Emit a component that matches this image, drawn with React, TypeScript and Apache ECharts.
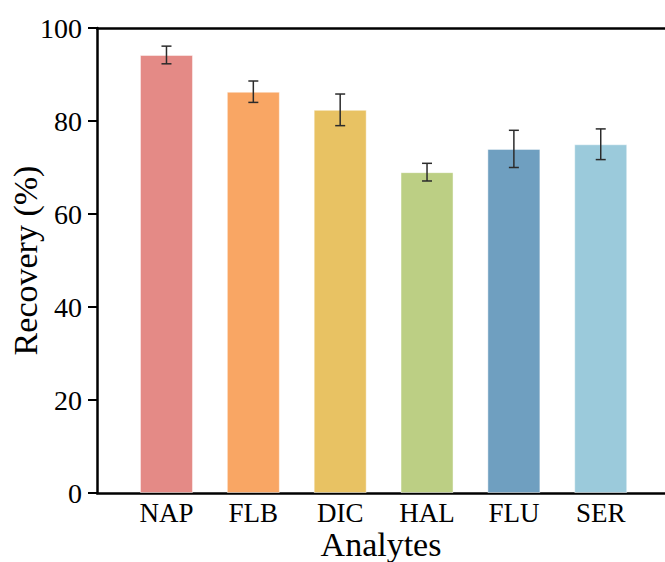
import React, { useEffect, useRef } from "react";
import * as echarts from "echarts";

const categories = ["NAP", "FLB", "DIC", "HAL", "FLU", "SER"];
const recovery = [94.2, 86.3, 82.4, 69.0, 74.0, 75.0];
const errors = [1.9, 2.3, 3.4, 1.9, 4.0, 3.3];
const colors = ["#E48A86", "#F9A664", "#E8C263", "#BCCF84", "#6F9FC0", "#9BCADB"];
const yTicks = [0, 20, 40, 60, 80, 100];

const FONT = "'Liberation Serif', 'Times New Roman', serif";

export default function App() {
  const ref = useRef<HTMLDivElement>(null);
  useEffect(() => {
    if (!ref.current) return;
    const chart = echarts.init(ref.current, null, { renderer: "svg" });
    const positions = categories.map((_, i) => i + 1);
    const option: any = {
      animation: false,
      backgroundColor: "#fff",
      grid: { left: 97, right: 0, top: 28, bottom: 69, containLabel: false, outerBoundsMode: "none" },
      xAxis: [
        {
          type: "value",
          min: 0.2,
          max: 6.74,
          position: "bottom",
          axisLine: { show: true, onZero: false, lineStyle: { color: "#000", width: 2.5 } },
          axisTick: { show: false },
          splitLine: { show: false },
          axisLabel: {
            customValues: positions,
            formatter: (v: number) => categories[Math.round(v) - 1] ?? "",
            color: "#000",
            fontFamily: FONT,
            fontSize: 27,
            lineHeight: 27,
            margin: 6,
          },
          name: "Analytes",
          nameLocation: "middle",
          nameGap: 34,
          nameMoveOverlap: false,
          nameTextStyle: { color: "#000", fontFamily: FONT, fontSize: 34, lineHeight: 34 },
        },
        {
          type: "value",
          min: 0.2,
          max: 6.74,
          position: "top",
          axisLine: { show: true, onZero: false, lineStyle: { color: "#000", width: 2.5 } },
          axisTick: { show: false },
          axisLabel: { show: false },
          splitLine: { show: false },
        },
      ],
      yAxis: {
        type: "value",
        min: 0,
        max: 100,
        interval: 20,
        axisLine: { show: true, lineStyle: { color: "#000", width: 2.5 } },
        axisTick: { show: true, length: 9, lineStyle: { color: "#000", width: 2 } },
        splitLine: { show: false },
        axisLabel: {
          customValues: yTicks,
          color: "#000",
          fontFamily: FONT,
          fontSize: 28,
          margin: 15,
        },
        name: "Recovery (%)",
        nameLocation: "middle",
        nameGap: 55,
        nameMoveOverlap: false,
        nameTextStyle: { color: "#000", fontFamily: FONT, fontSize: 34 },
      },
      series: [
        {
          type: "bar",
          xAxisIndex: 0,
          barWidth: 53,
          data: recovery.map((v, i) => ({
            value: [positions[i], v],
            itemStyle: { color: colors[i], borderColor: "rgba(255,255,255,0.45)", borderWidth: 1 },
          })),
        },
        {
          type: "custom",
          xAxisIndex: 0,
          z: 10,
          data: recovery.map((v, i) => [positions[i], v - errors[i], v + errors[i]]),
          renderItem: (params: any, api: any) => {
            const x = api.value(0);
            const lo = api.coord([x, api.value(1)]);
            const hi = api.coord([x, api.value(2)]);
            const cap = 5;
            const style = { stroke: "#2b2b2b", lineWidth: 1.5 };
            return {
              type: "group",
              children: [
                { type: "line", shape: { x1: hi[0], y1: hi[1], x2: lo[0], y2: lo[1] }, style },
                { type: "line", shape: { x1: hi[0] - cap, y1: hi[1], x2: hi[0] + cap, y2: hi[1] }, style },
                { type: "line", shape: { x1: lo[0] - cap, y1: lo[1], x2: lo[0] + cap, y2: lo[1] }, style },
              ],
            };
          },
        },
      ],
    };
    chart.setOption(option);
    return () => chart.dispose();
  }, []);
  return (
    <div
      ref={ref}
      style={{ position: "fixed", left: 0, top: 0, width: 665, height: 562, background: "#fff" }}
    />
  );
}
